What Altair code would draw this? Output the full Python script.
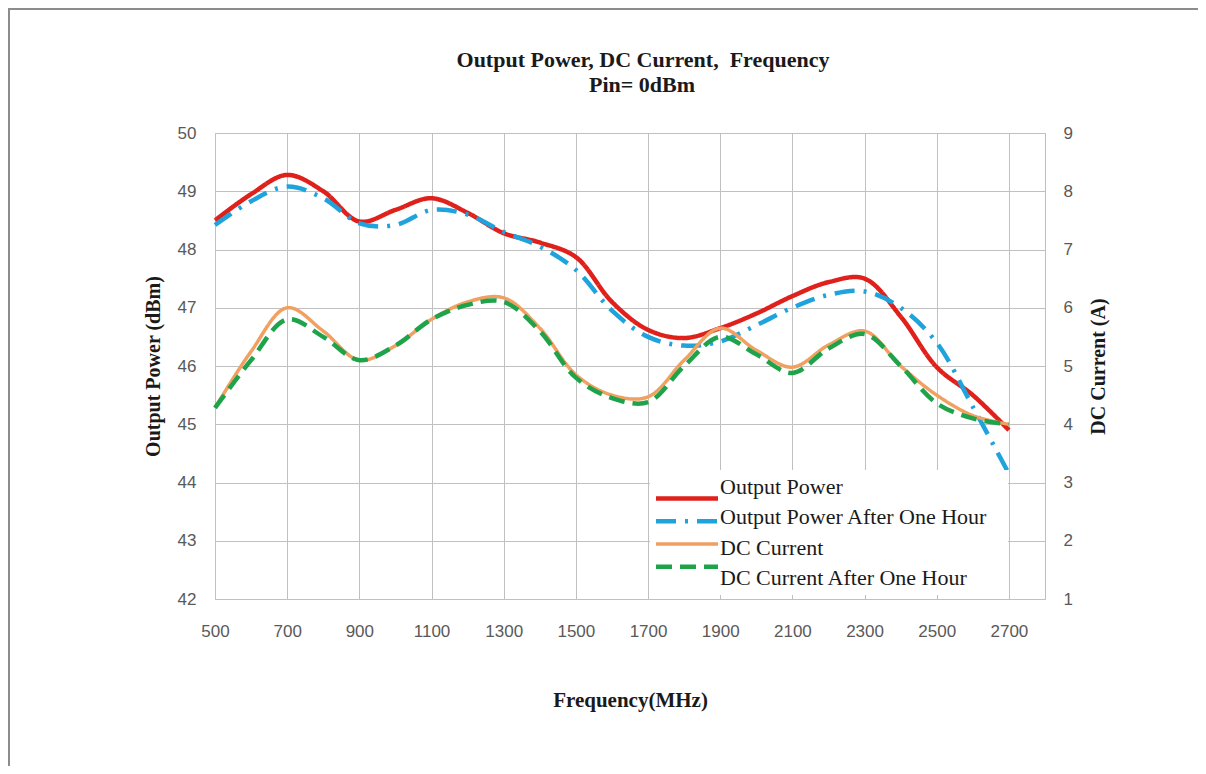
import altair as alt
import pandas as pd

freq = [500, 600, 700, 800, 900, 1000, 1100, 1200, 1300, 1400, 1500, 1600,
        1700, 1800, 1900, 2000, 2100, 2200, 2300, 2400, 2500, 2600, 2700]
power = [48.5, 48.95, 49.28, 49.0, 48.48, 48.68, 48.88, 48.63, 48.28, 48.12, 47.87, 47.1,
         46.62, 46.48, 46.65, 46.9, 47.2, 47.44, 47.5, 46.85, 45.98, 45.5, 44.9]
power_hour = [48.42, 48.83, 49.08, 48.88, 48.45, 48.42, 48.68, 48.6, 48.3, 48.05, 47.65, 46.95,
              46.5, 46.35, 46.42, 46.7, 47.0, 47.22, 47.28, 47.0, 46.4, 45.3, 44.15]
dc = [4.28, 5.25, 6.0, 5.6, 5.1, 5.35, 5.8, 6.1, 6.17, 5.65, 4.85, 4.5,
      4.47, 5.1, 5.65, 5.27, 4.98, 5.36, 5.6, 5.0, 4.5, 4.15, 4.0]
dc_hour = [4.28, 5.1, 5.8, 5.5, 5.1, 5.35, 5.8, 6.05, 6.1, 5.6, 4.8, 4.45,
           4.38, 5.0, 5.5, 5.2, 4.88, 5.3, 5.55, 5.0, 4.36, 4.1, 4.0]

series = ["Output Power", "Output Power After One Hour", "DC Current", "DC Current After One Hour"]
title_lines = ["Output Power, DC Current,\u00a0\u00a0Frequency", "Pin= 0dBm"]
colors = ["#E0201B", "#1FA3DC", "#F0A060", "#1FA34A"]
dashes = [[1, 0], [20, 9, 3, 9], [1, 0], [16, 8]]
widths = [4.5, 4.5, 3.5, 4.5]

pw = pd.DataFrame({
    "freq": freq * 2,
    "val": power + power_hour,
    "series": [series[0]] * len(freq) + [series[1]] * len(freq),
    "w": [widths[0]] * len(freq) + [widths[1]] * len(freq),
})
cur = pd.DataFrame({
    "freq": freq * 2,
    "val": dc + dc_hour,
    "series": [series[2]] * len(freq) + [series[3]] * len(freq),
    "w": [widths[2]] * len(freq) + [widths[3]] * len(freq),
})
leg = pd.DataFrame({"series": series, "w": widths})

W, H = 830, 466
grid_vals = list(range(500, 2801, 100))

color_enc = alt.Color("series:N", scale=alt.Scale(domain=series, range=colors), legend=None)
dash_enc = alt.StrokeDash("series:N", scale=alt.Scale(domain=series, range=dashes), legend=None)
width_enc = alt.StrokeWidth("w:Q", scale=None, legend=None)

x_enc = alt.X("freq:Q",
              scale=alt.Scale(domain=[500, 2800], nice=False, zero=False),
              axis=alt.Axis(values=grid_vals, title="Frequency(MHz)", format="d",
                            labelExpr="(datum.value - 500) % 200 == 0 && datum.value <= 2700 ? datum.label : ''",
                            labelFont="Liberation Sans", labelFontSize=17, labelColor="#595959",
                            labelPadding=24, tickSize=0, domain=False,
                            grid=True, gridColor="#c0c0c0", gridWidth=1,
                            titleFont="Liberation Serif", titleFontSize=21, titleFontWeight="bold",
                            titleColor="#1a1a1a", titlePadding=50, labelFlush=False))

frame = alt.Chart(alt.Data(values=[{}])).mark_rect(
    fill="white", fillOpacity=0, stroke="#8c8c8c", strokeWidth=2
).encode(x=alt.value(-206), x2=alt.value(2000), y=alt.value(-124), y2=alt.value(1000))

title1 = alt.Chart(alt.Data(values=[{"t": title_lines[0]}])).mark_text(
    font="Liberation Serif", fontSize=22, fontWeight="bold", color="#1a1a1a",
    align="center", baseline="alphabetic"
).encode(x=alt.value(428), y=alt.value(-66), text="t:N")
title2 = alt.Chart(alt.Data(values=[{"t": title_lines[1]}])).mark_text(
    font="Liberation Serif", fontSize=22, fontWeight="bold", color="#1a1a1a",
    align="center", baseline="alphabetic"
).encode(x=alt.value(427), y=alt.value(-41), text="t:N")

power_lines = alt.Chart(pw).mark_line(interpolate="catmull-rom").encode(
    x=x_enc,
    y=alt.Y("val:Q", scale=alt.Scale(domain=[42, 50], nice=False, zero=False),
            axis=alt.Axis(orient="left", values=list(range(42, 51)), title="Output Power (dBm)",
                          labelFont="Liberation Sans", labelFontSize=17, labelColor="#595959",
                          labelPadding=19, tickSize=0, domain=False,
                          grid=True, gridColor="#c0c0c0", gridWidth=1,
                          titleFont="Liberation Serif", titleFontSize=20, titleFontWeight="bold",
                          titleColor="#1a1a1a", titlePadding=14)),
    color=color_enc, strokeDash=dash_enc, strokeWidth=width_enc,
    order=alt.Order("freq:Q"),
)

dc_lines = alt.Chart(cur).mark_line(interpolate="catmull-rom").encode(
    x=alt.X("freq:Q", scale=alt.Scale(domain=[500, 2800], nice=False, zero=False)),
    y=alt.Y("val:Q", scale=alt.Scale(domain=[1, 9], nice=False, zero=False),
            axis=alt.Axis(orient="right", values=list(range(1, 10)), title="DC Current (A)",
                          labelFont="Liberation Sans", labelFontSize=17, labelColor="#595959",
                          labelPadding=18, tickSize=0, domain=False, grid=False,
                          titleFont="Liberation Serif", titleFontSize=20, titleFontWeight="bold",
                          titleColor="#1a1a1a", titlePadding=16, titleAngle=270,
                          titleBaseline="top")),
    color=color_enc, strokeDash=dash_enc, strokeWidth=width_enc,
    order=alt.Order("freq:Q"),
)

leg_bg = alt.Chart(alt.Data(values=[{}])).mark_rect(fill="white").encode(
    x=alt.value(435), x2=alt.value(793), y=alt.value(337), y2=alt.value(462))

leg_y = alt.Y("series:N", scale=alt.Scale(domain=series, range=[354, 445], padding=0), axis=None)

leg_lines = alt.Chart(leg).mark_rule().encode(
    x=alt.value(441), x2=alt.value(503), y=leg_y,
    color=color_enc, strokeDash=dash_enc, strokeWidth=width_enc,
)
leg_text = alt.Chart(leg).mark_text(
    align="left", baseline="middle", font="Liberation Serif", fontSize=22, color="#1a1a1a"
).encode(x=alt.value(505), y=leg_y, text="series:N")

chart = alt.layer(frame, title1, title2, power_lines, dc_lines, leg_bg, leg_lines, leg_text).resolve_scale(
    y="independent"
).properties(
    width=W, height=H,
    autosize=alt.AutoSizeParams(type="none"),
    padding={"left": 207, "top": 125, "right": 153, "bottom": 167},
    background="white",
).configure_view(stroke="#bdbdbd", strokeWidth=1)

chart.save("out.html", embed_options={"renderer": "svg", "actions": False})
